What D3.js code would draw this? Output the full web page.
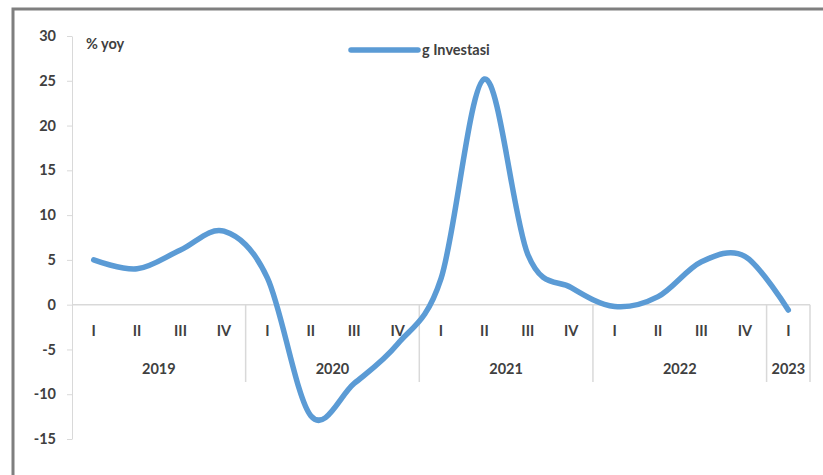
<!DOCTYPE html>
<html>
<head>
<meta charset="utf-8">
<script src="https://cdn.jsdelivr.net/npm/d3@7"></script>
<style>
  html, body { margin: 0; background: #fff; overflow: hidden; }
  svg { display: block; font-family: Lato, "Open Sans", sans-serif; }
</style>
</head>
<body>
<div id="chart"></div>
<script>
// Data
var years      = ["2019", "2020", "2021", "2022", "2023"];
var quarters   = ["I", "II", "III", "IV"];
var yearCount  = [4, 4, 4, 4, 1];
var investasi  = [5.0, 4.0, 6.1, 8.2, 3.0, -12.4, -8.8, -4.4, 2.9, 25.2, 5.6, 1.9, -0.2, 0.9, 4.8, 5.4, -0.6];
var yTicks     = [30, 25, 20, 15, 10, 5, 0, -5, -10, -15];

// categories as "year-quarter"
var cats = [];
years.forEach(function(y, i) {
    for (var q = 0; q < yearCount[i]; q++) cats.push({ year: y, q: quarters[q], key: y + "-" + quarters[q] });
});

// Size
var chart_width  = 823;
var chart_height = 475;
var plotLeft = 72, plotRight = 810, plotTop = 36, plotBottom = 439;
var textColor = "#404040";
var gridColor = "#d9d9d9";
var blue = "#5b9bd5";
var fontSize = "14.5px";

var svg = d3.select("#chart")
    .append("svg")
    .attr("width", chart_width)
    .attr("height", chart_height);

// frame (only left and top edges are in view)
svg.append("path")
    .attr("d", "M13," + chart_height + "V9H" + chart_width)
    .attr("fill", "none")
    .attr("stroke", "#7f7f7f")
    .attr("stroke-width", 3);

var x = d3.scaleBand()
    .domain(cats.map(function(d) { return d.key; }))
    .range([plotLeft, plotRight]);

var y = d3.scaleLinear()
    .domain([-15, 30])
    .range([plotBottom, plotTop]);

// y axis
var yAxis = svg.append("g")
    .attr("transform", "translate(" + plotLeft + ",0)")
    .call(d3.axisLeft(y).tickValues(yTicks).tickSize(5).tickSizeOuter(0).tickPadding(11)
        .tickFormat(function(d) { return String(d); }));
yAxis.select(".domain").attr("stroke", gridColor);
yAxis.selectAll(".tick line").attr("stroke", gridColor);
yAxis.selectAll("text")
    .attr("fill", textColor)
    .style("font-size", fontSize)
    .style("font-weight", "bold")
    .style("font-family", "Lato, sans-serif");

// zero line
svg.append("line")
    .attr("x1", plotLeft).attr("x2", plotRight)
    .attr("y1", y(0)).attr("y2", y(0))
    .attr("stroke", gridColor).attr("stroke-width", 1.5);

// group separators
var sepBottom = 382;
var idx = 0;
var bounds = [plotLeft];
yearCount.forEach(function(n) { idx += n; bounds.push(x(cats[idx - 1].key) + x.bandwidth()); });
svg.selectAll(".sep")
    .data(bounds.slice(1))
    .enter()
    .append("line")
    .attr("x1", function(d) { return d; })
    .attr("x2", function(d) { return d; })
    .attr("y1", y(0))
    .attr("y2", sepBottom)
    .attr("stroke", gridColor).attr("stroke-width", 1.5);

// quarter labels
svg.selectAll(".qlab")
    .data(cats)
    .enter()
    .append("text")
    .attr("x", function(d) { return x(d.key) + x.bandwidth() / 2; })
    .attr("y", 336)
    .attr("text-anchor", "middle")
    .attr("fill", textColor)
    .style("font-size", fontSize)
    .style("font-weight", "bold")
    .text(function(d) { return d.q; });

// year labels
svg.selectAll(".ylab")
    .data(years)
    .enter()
    .append("text")
    .attr("x", function(d, i) { return (bounds[i] + bounds[i + 1]) / 2; })
    .attr("y", 374)
    .attr("text-anchor", "middle")
    .attr("fill", textColor)
    .style("font-size", fontSize)
    .style("font-weight", "bold")
    .text(function(d) { return d; });

// unit label
svg.append("text")
    .attr("x", 86).attr("y", 49)
    .attr("fill", textColor)
    .style("font-size", fontSize)
    .style("font-weight", "bold")
    .text("% yoy");

// line
var line = d3.line()
    .x(function(d, i) { return x(cats[i].key) + x.bandwidth() / 2; })
    .y(function(d) { return y(d); })
    .curve(d3.curveCardinal.tension(0));

svg.append("path")
    .datum(investasi)
    .attr("d", line)
    .attr("fill", "none")
    .attr("stroke", blue)
    .attr("stroke-width", 5.5)
    .attr("stroke-linecap", "round")
    .attr("stroke-linejoin", "round");

// legend
svg.append("line")
    .attr("x1", 351).attr("x2", 418)
    .attr("y1", 50).attr("y2", 50)
    .attr("stroke", blue)
    .attr("stroke-width", 5.5)
    .attr("stroke-linecap", "round");
svg.append("text")
    .attr("x", 422).attr("y", 55)
    .attr("fill", textColor)
    .style("font-size", fontSize)
    .style("font-weight", "bold")
    .text("g Investasi");
</script>
</body>
</html>
